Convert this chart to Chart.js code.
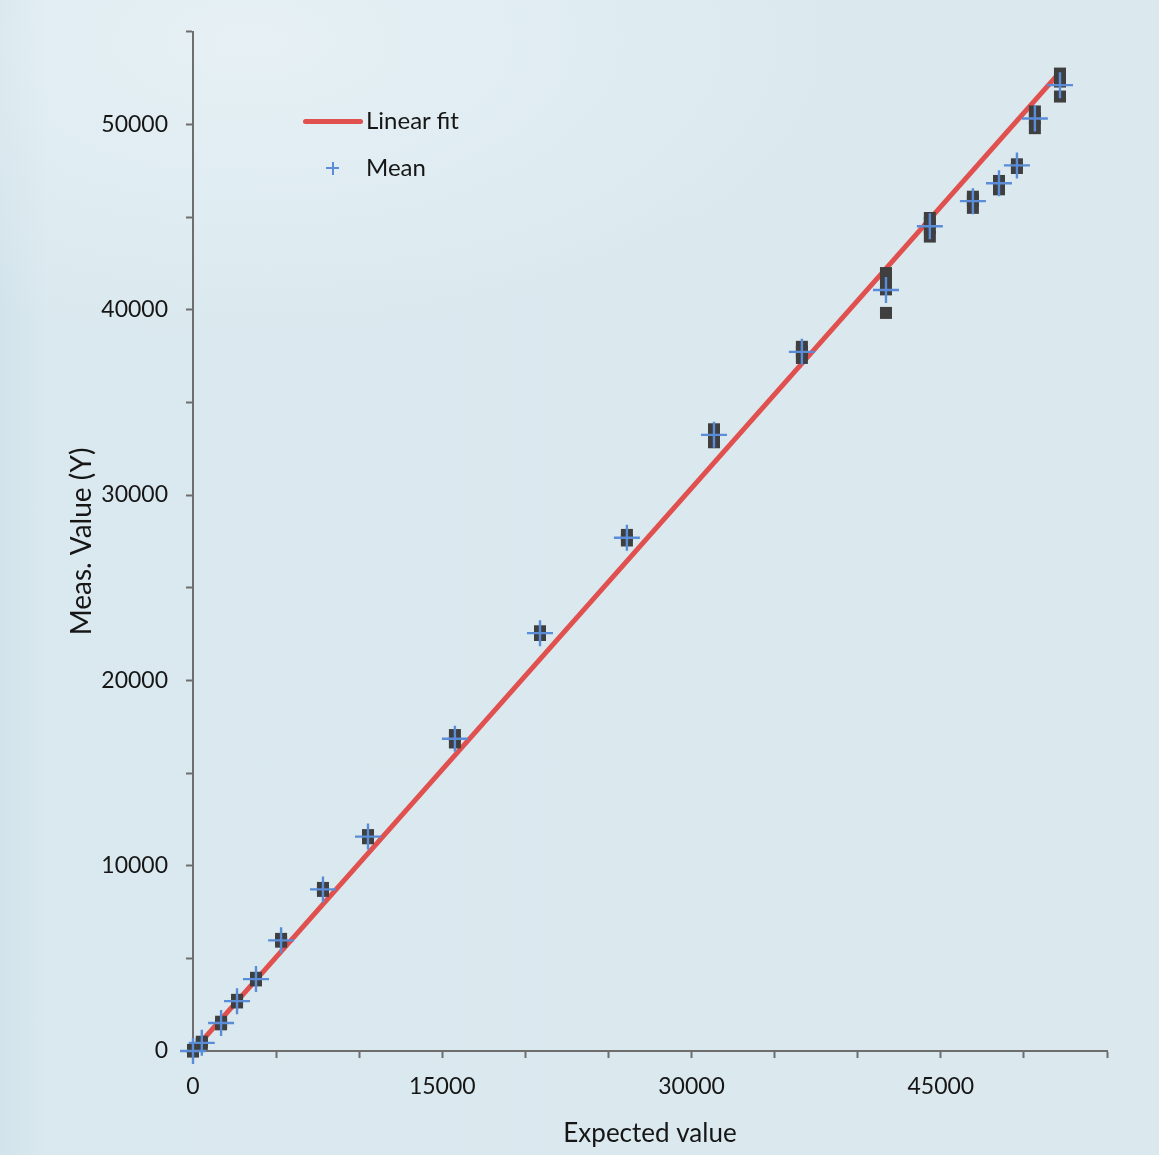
<!DOCTYPE html>
<html>
<head>
<meta charset="utf-8">
<script src="https://cdn.jsdelivr.net/npm/chart.js@4.4.1/dist/chart.umd.min.js"></script>
<style>
html,body{margin:0;padding:0;}
body{width:1159px;height:1155px;overflow:hidden;position:relative;
  background:
    radial-gradient(ellipse 600px 300px at 250px 40px, rgba(238,245,248,0.6), rgba(238,245,248,0)),
    linear-gradient(90deg,#d2e3eb 0px,#dae9ef 50px,#dbe9ef 100%);
  font-family:Lato, "Open Sans", sans-serif;}
#c{position:absolute;left:0;top:0;}
.lg{position:absolute;color:#161616;font-family:Lato,sans-serif;font-size:24px;line-height:28px;white-space:nowrap;}
.sw-line{position:absolute;height:5px;border-radius:3px;}
.sw-h,.sw-v{position:absolute;}
</style>
</head>
<body>
<canvas id="c" width="1159" height="1155"></canvas>
<div id="legend"></div>
<script>
// ---- data ----
const expected = [0, 530, 1690, 2650, 3790, 5300, 7820, 10530, 15760, 20880, 26110, 31350, 36640, 41700, 44340, 46930, 48500, 49580, 50660, 52170];
const meanValues = [0, 440, 1510, 2690, 3880, 5970, 8720, 11570, 16850, 22550, 27700, 33250, 37730, 41070, 44510, 45860, 46830, 47790, 50320, 52120];
const replicates = [
  [60, -30],
  [500, 380],
  [1580, 1440],
  [2760, 2620],
  [3950, 3810],
  [6050, 5900],
  [8800, 8640],
  [11650, 11480],
  [17050, 16650],
  [22650, 22450],
  [27850, 27550],
  [33550, 33250, 32850],
  [38000, 37750, 37400],
  [41980, 41400, 41100, 39830],
  [44950, 44700, 44400, 43950],
  [46100, 45900, 45500],
  [46950, 46750, 46500],
  [47850, 47650],
  [50700, 50350, 49800],
  [52745, 52315, 51507]
];
const fitX = [0, 52050];
const fitY = [0, 52700];
const xLabelTicks = [0, 15000, 30000, 45000];
const yLabelTicks = [0, 10000, 20000, 30000, 40000, 50000];

const meanPts = expected.map((x, i) => ({x, y: meanValues[i]}));
const repPts = [];
expected.forEach((x, i) => replicates[i].forEach(y => repPts.push({x, y})));
const fitPts = fitX.map((x, i) => ({x, y: fitY[i]}));

const axisColor = '#6e6e6e';
const textColor = '#161616';
const fitColor = '#e0504f';
const meanColor = '#5a8cd8';

const chart = new Chart(document.getElementById('c'), {
  type: 'scatter',
  data: {
    datasets: [
      {label: 'Mean', data: meanPts, pointStyle: 'cross', pointRadius: 13, pointBorderWidth: 2.4,
       borderColor: meanColor, backgroundColor: meanColor, order: 0, clip: false},
      {label: 'Replicates', data: repPts, pointStyle: 'rect', pointRadius: 8.5, pointBorderWidth: 0,
       backgroundColor: '#3f3f3f', borderColor: '#3f3f3f', order: 1, clip: false},
      {label: 'Linear fit', type: 'line', data: fitPts, borderColor: fitColor, backgroundColor: fitColor,
       borderWidth: 5, pointRadius: 0, order: 2, fill: false}
    ]
  },
  options: {
    responsive: false, animation: false, events: [],
    layout: {padding: {left: 0, top: 30, right: 52, bottom: 0}},
    plugins: {legend: {display: false}, tooltip: {enabled: false}},
    scales: {
      x: {
        type: 'linear', position: 'bottom', min: 0, max: 55000,
        ticks: {stepSize: 5000, autoSkip: false, maxRotation: 0, maxTicksLimit: 30, padding: 15,
          color: textColor, font: {family: 'Lato', size: 23},
          callback: v => xLabelTicks.includes(v) ? String(v) : ''},
        grid: {drawOnChartArea: false, drawTicks: true, tickLength: 7, tickWidth: 2, tickColor: axisColor},
        border: {display: true, color: axisColor, width: 2},
        title: {display: true, text: 'Expected value', color: textColor,
          font: {family: 'Lato', size: 26}, padding: {top: 0, bottom: 6}},
        afterFit(s) { s.height = 104; }
      },
      y: {
        type: 'linear', position: 'left', min: 0, max: 55000,
        ticks: {stepSize: 5000, autoSkip: false, maxTicksLimit: 30, padding: 18,
          color: textColor, font: {family: 'Lato', size: 23},
          callback: v => yLabelTicks.includes(v) ? String(v) : ''},
        grid: {drawOnChartArea: false, drawTicks: true, tickLength: 7, tickWidth: 2, tickColor: axisColor},
        border: {display: true, color: axisColor, width: 2},
        title: {display: true, text: 'Meas. Value (Y)', color: textColor,
          font: {family: 'Lato', size: 28}, padding: {top: 65, bottom: 0}},
        afterFit(s) { s.width = 193; }
      }
    }
  }
});

// ---- legend (HTML, from dataset labels) ----
const lg = document.getElementById('legend');
const fitDs = chart.data.datasets[2], meanDs = chart.data.datasets[0];
function add(html){ lg.insertAdjacentHTML('beforeend', html); }
add(`<div class="sw-line" style="left:303px;top:118.5px;width:60px;background:${fitDs.borderColor}"></div>`);
add(`<div class="lg" style="left:366px;top:106px">${fitDs.label}</div>`);
add(`<div class="sw-h" style="left:326px;top:167px;width:13px;height:2px;background:${meanDs.borderColor}"></div>`);
add(`<div class="sw-v" style="left:331.5px;top:161.5px;width:2px;height:13px;background:${meanDs.borderColor}"></div>`);
add(`<div class="lg" style="left:366px;top:153px">${meanDs.label}</div>`);
</script>
</body>
</html>
